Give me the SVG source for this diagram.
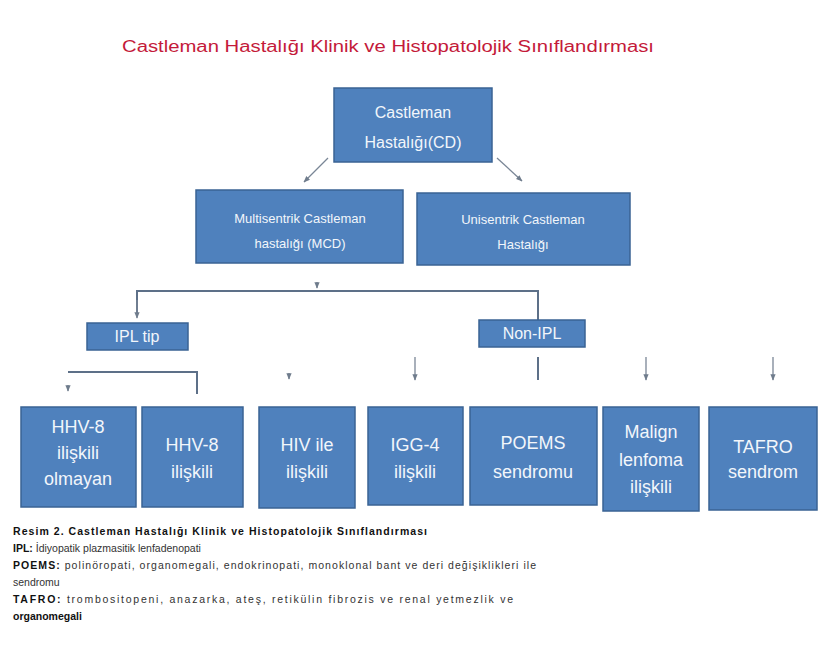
<svg xmlns="http://www.w3.org/2000/svg" width="832" height="649" viewBox="0 0 832 649">
  <defs>
    <marker id="arr" viewBox="0 0 10 10" refX="9" refY="5" markerWidth="5" markerHeight="5" orient="auto-start-reverse">
      <path d="M0,1 L10,5 L0,9 Z" fill="#6f7c8c"/>
    </marker>
    <style>
      .box { fill: #4f81bd; stroke: #3a6394; stroke-width: 1.5; }
      .bt { font-family: "Liberation Sans", Arial, sans-serif; fill: #f2f6fb; text-anchor: middle; }
      .t16 { font-size: 16px; }
      .t13 { font-size: 13px; }
      .t18 { font-size: 18px; }
      .line { fill: none; stroke: #7a8696; stroke-width: 1.3; }
      .bracket { fill: none; stroke: #5d7088; stroke-width: 2; }
      .cap { font-family: "Liberation Sans", Arial, sans-serif; font-size: 10.5px; fill: #333; }
      .capb { font-weight: bold; fill: #111; }
    </style>
  </defs>
  <rect width="832" height="649" fill="#ffffff"/>

  <!-- heading -->
  <text x="388" y="52" font-family="'Liberation Sans', Arial, sans-serif" font-size="16" fill="#c41a3a" text-anchor="middle" textLength="532" lengthAdjust="spacingAndGlyphs">Castleman Hastalığı Klinik ve Histopatolojik Sınıflandırması</text>

  <!-- connectors -->
  <g id="connectors">
    <line class="line" x1="328" y1="158" x2="304" y2="182" marker-end="url(#arr)"/>
    <line class="line" x1="497" y1="158" x2="522" y2="181" marker-end="url(#arr)"/>
    <line class="line" x1="317" y1="282" x2="317" y2="288" marker-end="url(#arr)"/>
    <polyline class="bracket" points="137,315 137,291 538,291 538,320"/>
    <line class="line" x1="137" y1="300" x2="137" y2="318" marker-end="url(#arr)"/>
    <polyline class="bracket" points="68,372 197,372 197,394"/>
    <line class="line" x1="68" y1="385" x2="68" y2="391" marker-end="url(#arr)"/>
    <line class="line" x1="289" y1="373" x2="289" y2="379" marker-end="url(#arr)"/>
    <line class="line" x1="415" y1="357" x2="415" y2="380" marker-end="url(#arr)"/>
    <line class="bracket" x1="538" y1="357" x2="538" y2="380"/>
    <line class="line" x1="646" y1="357" x2="646" y2="380" marker-end="url(#arr)"/>
    <line class="line" x1="773" y1="357" x2="773" y2="380" marker-end="url(#arr)"/>
  </g>

  <g id="root">
    <rect class="box" x="334" y="88" width="158" height="74"/>
    <text class="bt t16" x="413" y="118">Castleman</text>
    <text class="bt t16" x="413" y="148">Hastalığı(CD)</text>
  </g>

  <g id="mcd">
    <rect class="box" x="196" y="190" width="207" height="73"/>
    <text class="bt t13" x="300" y="223">Multisentrik Castleman</text>
    <text class="bt t13" x="300" y="248">hastalığı (MCD)</text>
  </g>

  <g id="ucd">
    <rect class="box" x="417" y="193" width="213" height="72"/>
    <text class="bt t13" x="523" y="224">Unisentrik Castleman</text>
    <text class="bt t13" x="523" y="249">Hastalığı</text>
  </g>

  <g id="ipl">
    <rect class="box" x="87" y="323" width="101" height="27"/>
    <text class="bt t16" x="137" y="342">IPL tip</text>
  </g>

  <g id="nonipl">
    <rect class="box" x="479" y="320" width="106" height="27"/>
    <text class="bt t16" x="532" y="339">Non-IPL</text>
  </g>

  <g id="hhv8-neg">
    <rect class="box" x="21" y="407" width="115" height="100"/>
    <text class="bt t18" x="78" y="433">HHV-8</text>
    <text class="bt t18" x="78" y="459">ilişkili</text>
    <text class="bt t18" x="78" y="485">olmayan</text>
  </g>

  <g id="hhv8-pos">
    <rect class="box" x="142" y="407" width="101" height="100"/>
    <text class="bt t18" x="192" y="451">HHV-8</text>
    <text class="bt t18" x="192" y="478">ilişkili</text>
  </g>

  <g id="hiv">
    <rect class="box" x="259" y="407" width="96" height="101"/>
    <text class="bt t18" x="307" y="451">HIV ile</text>
    <text class="bt t18" x="307" y="478">ilişkili</text>
  </g>

  <g id="igg4">
    <rect class="box" x="368" y="407" width="95" height="98"/>
    <text class="bt t18" x="415" y="451">IGG-4</text>
    <text class="bt t18" x="415" y="478">ilişkili</text>
  </g>

  <g id="poems">
    <rect class="box" x="470" y="407" width="127" height="98"/>
    <text class="bt t18" x="533" y="449">POEMS</text>
    <text class="bt t18" x="533" y="478">sendromu</text>
  </g>

  <g id="lymphoma">
    <rect class="box" x="603" y="407" width="96" height="104"/>
    <text class="bt t18" x="651" y="438">Malign</text>
    <text class="bt t18" x="651" y="466">lenfoma</text>
    <text class="bt t18" x="651" y="493">ilişkili</text>
  </g>

  <g id="tafro">
    <rect class="box" x="709" y="407" width="108" height="103"/>
    <text class="bt t18" x="763" y="453">TAFRO</text>
    <text class="bt t18" x="763" y="478">sendrom</text>
  </g>

  <!-- legend -->
  <g id="legend">
    <text class="cap capb" x="13" y="535" textLength="414" lengthAdjust="spacing">Resim 2. Castleman Hastalığı Klinik ve Histopatolojik Sınıflandırması</text>
    <text class="cap" x="13" y="552"><tspan class="capb">IPL:</tspan> İdiyopatik plazmasitik lenfadenopati</text>
    <text class="cap" x="13" y="569" textLength="523" lengthAdjust="spacing"><tspan class="capb">POEMS:</tspan> polinöropati, organomegali, endokrinopati, monoklonal bant ve deri değişiklikleri ile</text>
    <text class="cap" x="13" y="586">sendromu</text>
    <text class="cap" x="13" y="603" textLength="500" lengthAdjust="spacing"><tspan class="capb">TAFRO:</tspan> trombositopeni, anazarka, ateş, retikülin fibrozis ve renal yetmezlik ve</text>
    <text class="cap capb" x="13" y="620">organomegali</text>
  </g>
</svg>
